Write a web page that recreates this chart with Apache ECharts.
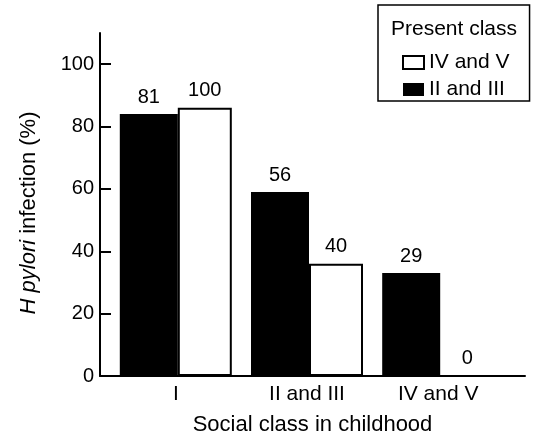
<!DOCTYPE html>
<html><head><meta charset="utf-8">
<script src="https://cdn.jsdelivr.net/npm/echarts@6/dist/echarts.min.js"></script>
<style>html,body{margin:0;padding:0;background:#fff}#c{width:536px;height:442px}</style>
</head><body><div id="c"></div>
<script>
const categories = ['I', 'II and III', 'IV and V'];
const legendOrder = ['IV and V', 'II and III'];
const blackName = 'II and III';
const whiteName = 'IV and V';
const blackValues = [84, 59, 33];
const whiteValues = [86, 36, 0];
const blackCounts = [81, 56, 29];
const whiteCounts = [100, 40, 0];
const yTicks = [0, 20, 40, 60, 80, 100];
const yMax = 110;

const FONT = '"Liberation Sans", Arial, Helvetica, sans-serif';
const chart = echarts.init(document.getElementById('c'), null, {renderer: 'canvas'});
const labelStyle = {show: true, position: 'top', distance: 7, fontSize: 20, color: '#000', fontFamily: FONT};
const option = {
  animation: false,
  backgroundColor: '#fff',
  textStyle: {fontFamily: FONT, color: '#000'},
  title: {text: 'Present class', left: 391, top: 19, padding: 0,
    textStyle: {fontFamily: FONT, fontSize: 21, fontWeight: 'normal', color: '#000'}},
  legend: {
    data: legendOrder, orient: 'vertical', left: 378, top: 5, icon: 'rect',
    padding: [47, 20, 1, 24], itemWidth: 21, itemHeight: 13, itemGap: 6,
    borderColor: '#000', borderWidth: 1.5, selectedMode: false,
    textStyle: {fontSize: 21, color: '#000', fontFamily: FONT}
  },
  grid: [
    {left: 100, right: 11, top: 33, bottom: 66},
    {left: 110.2, width: 393.6, top: 33, bottom: 66}
  ],
  xAxis: [
    {gridIndex: 0, type: 'category', data: categories,
     axisLine: {lineStyle: {color: '#000', width: 2}}, axisTick: {show: false}, axisLabel: {show: false},
     splitLine: {show: false},
     name: 'Social class in childhood', nameLocation: 'middle', nameGap: 38,
     nameTextStyle: {fontSize: 22, color: '#000', fontFamily: FONT}},
    {gridIndex: 1, type: 'category', data: categories,
     axisLine: {show: false}, axisTick: {show: false}, splitLine: {show: false},
     axisLabel: {fontSize: 21, color: '#000', margin: 8, fontFamily: FONT}}
  ],
  yAxis: [
    {gridIndex: 0, type: 'value', min: 0, max: yMax, interval: 20,
     axisLine: {show: true, lineStyle: {color: '#000', width: 2}},
     axisTick: {show: true, inside: true, length: 11, customValues: yTicks, lineStyle: {color: '#000', width: 2}},
     axisLabel: {customValues: yTicks, fontSize: 20, color: '#000', margin: 6, fontFamily: FONT},
     splitLine: {show: false},
     name: '{i|H pylori} infection (%)', nameLocation: 'middle', nameGap: 60,
     nameTextStyle: {fontSize: 22, color: '#000', fontFamily: FONT, padding: [0, 17, 0, 0],
       rich: {i: {fontStyle: 'italic', fontSize: 22, fontFamily: FONT, color: '#000'}}}},
    {gridIndex: 1, type: 'value', min: 0, max: yMax, show: false, splitLine: {show: false}}
  ],
  series: [
    {name: blackName, type: 'bar', xAxisIndex: 1, yAxisIndex: 1, data: blackValues,
     barWidth: 58, barGap: 0, itemStyle: {color: '#000'},
     label: Object.assign({}, labelStyle, {formatter: p => String(blackCounts[p.dataIndex])})},
    {name: whiteName, type: 'bar', xAxisIndex: 1, yAxisIndex: 1, data: whiteValues,
     barWidth: 54, barGap: 0, itemStyle: {color: '#fff', borderColor: '#000', borderWidth: 2},
     label: Object.assign({}, labelStyle, {formatter: p => String(whiteCounts[p.dataIndex])})}
  ]
};
chart.setOption(option);
</script></body></html>
